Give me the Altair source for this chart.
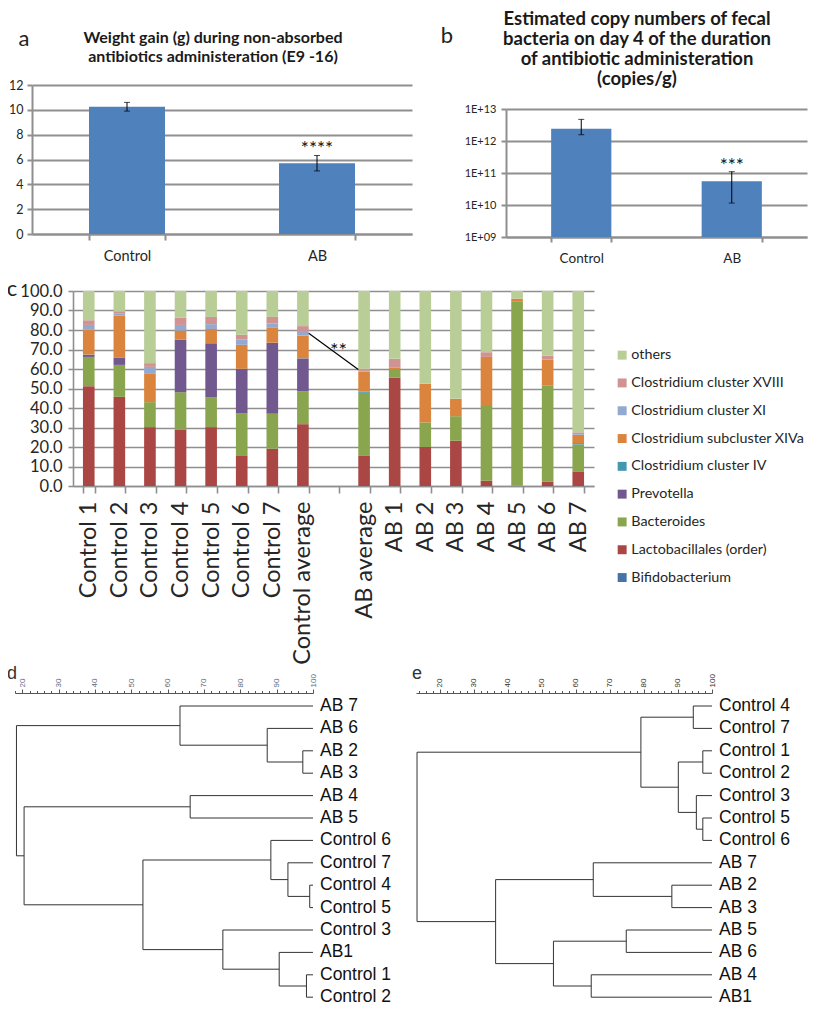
import altair as alt
import pandas as pd

GRID = "#8f8f8f"
TXT = "#262626"
FONT = "Lato"
ARIAL = "Liberation Sans"
LINE = "#333333"

# ---------------- panel a data ----------------
a_title = ["Weight gain (g) during non-absorbed", "antibiotics administeration (E9 -16)"]
a_groups = ["Control", "AB"]
a_means = [10.25, 5.7]
a_errors = [0.35, 0.62]
a_stars = ["", "****"]
a_ticks = [0, 2, 4, 6, 8, 10, 12]

# ---------------- panel b data ----------------
b_title = ["Estimated copy numbers of fecal", "bacteria on day 4 of the duration",
           "of antibiotic administeration", "(copies/g)"]
b_groups = ["Control", "AB"]
b_means = [2.42e12, 5.5e10]
b_err_low = [1.57e12, 1.15e10]
b_err_high = [4.74e12, 1.1e11]
b_stars = ["", "***"]
b_ticks = [1e9, 1e10, 1e11, 1e12, 1e13]

# ---------------- panel c data ----------------
c_samples = ["Control 1", "Control 2", "Control 3", "Control 4", "Control 5",
             "Control 6", "Control 7", "Control average",
             "AB average", "AB 1", "AB 2", "AB 3", "AB 4", "AB 5", "AB 6", "AB 7"]
c_gap = " "
c_taxa = ["Bifidobacterium", "Lactobacillales (order)", "Bacteroides", "Prevotella",
          "Clostridium cluster IV", "Clostridium subcluster XIVa",
          "Clostridium cluster XI", "Clostridium cluster XVIII", "others"]
c_colors = ["#4572A7", "#AA4643", "#89A54E", "#71588F", "#4198AF", "#DB843D",
            "#93A9CF", "#D19392", "#B9CD96"]
bifidobacterium = [0.0, 0.0, 0.0, 0.0, 0.0, 0.0, 0.0, 0.0, 0.0, 0.0, 0.0, 0.0, 0.0, 0.0, 0.0, 0.0]
lactobacillales = [51.2, 45.7, 30.2, 29.0, 30.2, 15.4, 19.1, 31.7, 15.7, 55.5, 20.0, 23.2, 2.7, 0.2, 2.2, 7.5]
bacteroides = [15.0, 16.4, 12.8, 19.1, 15.4, 22.0, 17.9, 16.9, 32.1, 4.2, 12.6, 12.6, 38.3, 94.5, 49.2, 13.8]
prevotella = [1.0, 3.8, 0.0, 27.0, 27.6, 22.7, 36.5, 16.8, 0.0, 0.0, 0.0, 0.0, 0.0, 0.0, 0.0, 0.0]
clos_iv = [0.2, 0.0, 0.0, 0.0, 0.0, 0.0, 0.0, 0.1, 0.7, 0.0, 0.0, 0.0, 0.0, 0.0, 0.0, 0.7]
clos_xiva = [12.7, 21.5, 14.5, 4.6, 7.3, 12.3, 7.6, 11.6, 10.2, 0.9, 19.8, 8.9, 25.2, 1.4, 13.4, 4.3]
clos_xi = [2.5, 1.2, 3.6, 2.9, 2.5, 2.7, 2.3, 2.4, 0.3, 0.0, 0.0, 0.0, 0.0, 0.0, 0.0, 1.0]
clos_xviii = [2.4, 1.0, 1.9, 3.7, 3.7, 2.5, 3.3, 2.5, 1.1, 4.6, 0.0, 0.0, 2.4, 0.0, 2.1, 0.3]
others = [15.0, 10.4, 37.0, 13.7, 13.3, 22.4, 13.3, 18.0, 39.9, 34.8, 47.6, 55.3, 31.4, 3.9, 33.1, 72.4]
c_series = [bifidobacterium, lactobacillales, bacteroides, prevotella, clos_iv,
            clos_xiva, clos_xi, clos_xviii, others]
c_ticks = [0, 10, 20, 30, 40, 50, 60, 70, 80, 90, 100]
# significance link between the two averages
c_link = {"from": "Control average", "to": "AB average", "y_from": 78.3, "y_to": 59.8}
c_link_stars = "**"
c_link_star_y = 66

# ---------------- dendrograms (similarity %) ----------------
d_leaves = ["AB 7", "AB 6", "AB 2", "AB 3", "AB 4", "AB 5", "Control 6", "Control 7",
            "Control 4", "Control 5", "Control 3", "AB1", "Control 1", "Control 2"]
d_merges = [(2, 3, 97.2), (1, 14, 87.4), (0, 15, 63.4), (4, 5, 66.2), (8, 9, 99.1),
            (7, 18, 93.1), (6, 19, 88.4), (12, 13, 98.2), (11, 21, 90.7), (10, 22, 75.2),
            (20, 23, 53.2), (17, 24, 20.5), (16, 25, 18.4)]
e_leaves = ["Control 4", "Control 7", "Control 1", "Control 2", "Control 3", "Control 5",
            "Control 6", "AB 7", "AB 2", "AB 3", "AB 5", "AB 6", "AB 4", "AB1"]
e_merges = [(0, 1, 94.5), (2, 3, 97.3), (5, 6, 97.3), (4, 16, 95.4), (15, 17, 90.1),
            (14, 18, 79.1), (8, 9, 88.2), (7, 20, 65.1), (10, 11, 74.8), (12, 13, 64.5),
            (22, 23, 53.4), (21, 24, 36.4), (19, 25, 13.3)]

one = pd.DataFrame({"k": [0]})


def label_text(txt, x, y, size=22, font=FONT, color="#222222", weight="normal",
               align="center", baseline="middle"):
    return alt.Chart(one).mark_text(text=txt, fontSize=size, font=font, color=color,
                                    fontWeight=weight, align=align,
                                    baseline=baseline).encode(x=alt.value(x), y=alt.value(y))


def title_lines(lines, x, y0, lh, size):
    return [label_text(t, x, y0 + i * lh, size=size, weight="bold", color="#1a1a1a")
            for i, t in enumerate(lines)]


def spacer(w, h):
    return alt.Chart(one).mark_rect(opacity=0).encode(
        x=alt.value(0), x2=alt.value(w), y=alt.value(0), y2=alt.value(h)
    ).properties(width=w, height=h)


# ================= panel a =================
a_df = pd.DataFrame({"group": a_groups, "mean": a_means, "err": a_errors, "star": a_stars})
a_df["lo"] = a_df["mean"] - a_df["err"]
a_df["hi"] = a_df["mean"] + a_df["err"]
a_xs = alt.Scale(domain=a_groups, paddingInner=0.6, paddingOuter=0.3)
a_ys = alt.Scale(domain=[0, 12], nice=False)
a_xaxis = alt.Axis(title=None, labelAngle=0, tickBand="extent", tickSize=6, tickWidth=2,
                   tickColor=GRID, domainColor=GRID, domainWidth=2, labelFont=FONT,
                   labelFontSize=14.5, labelColor=TXT, labelPadding=9)
a_yaxis = alt.Axis(title=None, values=a_ticks, grid=True, gridColor=GRID, gridWidth=2,
                   domainColor=GRID, domainWidth=2, tickColor=GRID, tickWidth=2, tickSize=5,
                   labelFont=FONT, labelFontSize=12.5, labelColor=TXT, labelPadding=4)
ax = alt.X("group:N", scale=a_xs, axis=a_xaxis)
a_bars = alt.Chart(a_df).mark_bar(color="#4F81BD").encode(
    x=ax, y=alt.Y("mean:Q", scale=a_ys, axis=a_yaxis))
a_err = alt.Chart(a_df).mark_rule(color="black", strokeWidth=1).encode(
    x=ax, y=alt.Y("lo:Q", scale=a_ys, axis=a_yaxis), y2="hi:Q")
a_cap1 = alt.Chart(a_df).mark_tick(color="black", size=6, thickness=1).encode(
    x=ax, y=alt.Y("lo:Q", scale=a_ys, axis=a_yaxis))
a_cap2 = alt.Chart(a_df).mark_tick(color="black", size=6, thickness=1).encode(
    x=ax, y=alt.Y("hi:Q", scale=a_ys, axis=a_yaxis))
a_txt = alt.Chart(a_df).mark_text(font=FONT, fontSize=19, color="#111111",
                                  baseline="alphabetic", dy=-1).encode(
    x=ax, y=alt.Y("hi:Q", scale=a_ys, axis=a_yaxis), text="star:N")
panel_a = alt.layer(
    a_bars, a_err, a_cap1, a_cap2, a_txt,
    label_text("a", -8, -46),
    *title_lines(a_title, 181, -47, 19, 16),
).properties(width=380, height=149)

# ================= panel b =================
b_df = pd.DataFrame({"group": b_groups, "mean": b_means, "lo": b_err_low,
                     "hi": b_err_high, "star": b_stars})
b_xs = alt.Scale(domain=b_groups, paddingInner=0.6, paddingOuter=0.3)
b_ys = alt.Scale(type="log", domain=[1e9, 1e13], range=[152, 24], nice=False)
b_xaxis = alt.Axis(title=None, labelAngle=0, tickBand="extent", tickSize=5, tickWidth=2,
                   tickColor=GRID, domainColor=GRID, domainWidth=2, labelFont=FONT,
                   labelFontSize=13.5, labelColor=TXT, labelPadding=9)
b_yaxis = alt.Axis(title=None, values=b_ticks, grid=True, gridColor=GRID, gridWidth=2,
                   domainColor=GRID, domainWidth=2, tickColor=GRID, tickWidth=2, tickSize=5,
                   labelExpr="'1E+' + format(round(log(datum.value) / LN10), '02d')",
                   labelFont=FONT, labelFontSize=11, labelColor=TXT, labelPadding=5)
bx = alt.X("group:N", scale=b_xs, axis=b_xaxis)
b_bars = alt.Chart(b_df).mark_bar(color="#4F81BD").encode(
    x=bx, y=alt.Y("mean:Q", scale=b_ys, axis=b_yaxis), y2=alt.datum(1e9))
b_err = alt.Chart(b_df).mark_rule(color="black", strokeWidth=1).encode(
    x=bx, y=alt.Y("lo:Q", scale=b_ys, axis=b_yaxis), y2="hi:Q")
b_cap1 = alt.Chart(b_df).mark_tick(color="black", size=6, thickness=1).encode(
    x=bx, y=alt.Y("lo:Q", scale=b_ys, axis=b_yaxis))
b_cap2 = alt.Chart(b_df).mark_tick(color="black", size=6, thickness=1).encode(
    x=bx, y=alt.Y("hi:Q", scale=b_ys, axis=b_yaxis))
b_txt = alt.Chart(b_df).mark_text(font=FONT, fontSize=19, color="#111111",
                                  baseline="alphabetic", dy=0).encode(
    x=bx, y=alt.Y("hi:Q", scale=b_ys, axis=b_yaxis), text="star:N")
panel_b = alt.layer(
    b_bars, b_err, b_cap1, b_cap2, b_txt,
    label_text("b", -59, -49),
    *title_lines(b_title, 131, -66, 20.0, 18.5),
).properties(width=301, height=152)

# ================= panel c =================
rows = []
for ti, (taxon, series) in enumerate(zip(c_taxa, c_series)):
    for si, s in enumerate(c_samples):
        rows.append({"sample": s, "taxon": taxon, "value": series[si], "rank": ti})
c_df = pd.DataFrame(rows)
c_domain = c_samples[:8] + [c_gap] + c_samples[8:]
c_xs = alt.Scale(domain=c_domain, paddingInner=0.62, paddingOuter=0.325)
c_ys = alt.Scale(domain=[0, 100], nice=False)
c_xaxis = alt.Axis(title=None, labelAngle=-90, tickBand="extent", tickSize=7, tickWidth=1.6,
                   tickColor=GRID, domainColor=GRID, domainWidth=1.6, labelFont=FONT,
                   labelFontSize=23.5, labelColor=TXT, labelPadding=8, labelLimit=400)
c_yaxis = alt.Axis(title=None, values=c_ticks, format=".1f", grid=True, gridColor=GRID,
                   gridWidth=1.6, domainColor=GRID, domainWidth=1.6, tickColor=GRID,
                   tickWidth=1.6, tickSize=5, labelFont=FONT, labelFontSize=16.5,
                   labelColor=TXT, labelPadding=6)
legend_order = c_taxa[::-1]
legend_colors = c_colors[::-1]
c_bars = alt.Chart(c_df).mark_bar().encode(
    x=alt.X("sample:N", scale=c_xs, axis=c_xaxis),
    y=alt.Y("value:Q", stack="zero", scale=c_ys, axis=c_yaxis),
    color=alt.Color("taxon:N", scale=alt.Scale(domain=legend_order, range=legend_colors),
                    legend=alt.Legend(orient="none", legendX=600, legendY=263, title=None,
                                      symbolType="square", symbolSize=80,
                                      symbolStrokeWidth=0, labelFont=FONT,
                                      labelFontSize=14.3, labelColor=TXT, rowPadding=12.8,
                                      labelOffset=2, padding=0, labelLimit=300)),
    order=alt.Order("rank:Q", sort="ascending"))
link_df = pd.DataFrame({"a": [c_link["from"]], "b": [c_link["to"]],
                        "ya": [c_link["y_from"]], "yb": [c_link["y_to"]]})
c_line = alt.Chart(link_df).mark_rule(color="black", strokeWidth=1.2, xOffset=5.8,
                                      x2Offset=-5.8).encode(
    x=alt.X("a:N", scale=c_xs, axis=c_xaxis), x2="b:N",
    y=alt.Y("ya:Q", scale=c_ys, axis=c_yaxis), y2="yb:Q")
star_df = pd.DataFrame({"s": [c_gap], "y": [c_link_star_y], "t": [c_link_stars]})
c_star = alt.Chart(star_df).mark_text(font=FONT, fontSize=20, color="#111111",
                                      baseline="alphabetic", dx=5).encode(
    x=alt.X("s:N", scale=c_xs, axis=c_xaxis),
    y=alt.Y("y:Q", scale=c_ys, axis=c_yaxis), text="t:N")
panel_c = alt.layer(c_bars, c_line, c_star, label_text("c", -61, -2)).properties(
    width=521, height=195)


# ================= dendrograms =================
S = 22.4


def dendro(leaves, merges, xmin, width, lab, labcolor):
    n = len(leaves)
    ypos = {i: float(i) for i in range(n)}
    xpos = {i: 100.0 for i in range(n)}
    segs = []
    for k, (p, q, h) in enumerate(merges):
        segs.append({"x": h, "y": ypos[p], "x2": h, "y2": ypos[q]})
        segs.append({"x": xpos[p], "y": ypos[p], "x2": h, "y2": ypos[p]})
        segs.append({"x": xpos[q], "y": ypos[q], "x2": h, "y2": ypos[q]})
        ypos[n + k] = (ypos[p] + ypos[q]) / 2
        xpos[n + k] = h
    seg_df = pd.DataFrame(segs)
    leaf_df = pd.DataFrame({"name": leaves, "idx": list(range(n)), "sim": [100.0] * n})
    xs = alt.Scale(domain=[xmin, 100], nice=False, zero=False)
    ys = alt.Scale(domain=[0, n - 1], range=[13, 13 + (n - 1) * S], nice=False, zero=False)
    first = int(xmin) + (int(xmin) % 2)
    xaxis = alt.Axis(orient="top", title=None, values=list(range(first, 101, 2)), format="d",
                     labelExpr="datum.value % 10 === 0 ? datum.label : ''",
                     labelAngle=-90, labelAlign="left", labelBaseline="middle",
                     labelFontSize=8, labelFont=ARIAL, labelColor=labcolor,
                     labelPadding=2, labelFlush=False, labelOverlap=False,
                     tickSize={"condition": {"test": "datum.value % 10 === 0", "value": 4},
                               "value": 2.5},
                     tickColor="#555555", tickWidth=1, domainColor="#555555", domainWidth=1,
                     grid=False)
    lines = alt.Chart(seg_df).mark_rule(color=LINE, strokeWidth=1).encode(
        x=alt.X("x:Q", scale=xs, axis=xaxis), x2="x2:Q",
        y=alt.Y("y:Q", scale=ys, axis=None), y2="y2:Q")
    labels = alt.Chart(leaf_df).mark_text(align="left", baseline="middle", dx=7,
                                          font=ARIAL, fontSize=17.5, color="#111111").encode(
        x=alt.X("sim:Q", scale=xs, axis=xaxis),
        y=alt.Y("idx:Q", scale=ys, axis=None), text="name:N")
    return alt.layer(lines, labels, lab).properties(width=width, height=13 + (n - 1) * S + 4)


panel_d = dendro(d_leaves, d_merges, 18, 298,
                 label_text("d", -3, -19, size=18, font=ARIAL, color="#333333"), "#5a6b82")
panel_e = dendro(e_leaves, e_merges, 13, 296,
                 label_text("e", 1, -19, size=18, font=ARIAL, color="#333333"), "#333333")

# ================= layout =================
# the grid origin (top-left of panel a's row, at the left edge of panel d) is pinned with
# padding so that panels land where they sit in the figure; the canvas is 800 x 1003.
PAD_L, PAD_T, CANVAS_W, CANVAS_H = 7, 77, 800, 1003
row1 = alt.hconcat(spacer(17, 1), panel_a, spacer(94, 1), panel_b, spacing=0, bounds="flush")
row2 = alt.hconcat(spacer(58, 1), panel_c, spacing=0, bounds="flush")
row3 = alt.hconcat(panel_d, spacer(103, 1), panel_e, spacing=0, bounds="flush")
chart = alt.vconcat(row1, spacer(1, 13), row2, row3, spacing=0).properties(
    autosize=alt.AutoSizeParams(type="none"),
    padding={"left": PAD_L, "top": PAD_T, "right": CANVAS_W - PAD_L,
             "bottom": CANVAS_H - PAD_T},
).configure_view(strokeWidth=0)

chart.save("out.html", embed_options={"renderer": "svg", "actions": False})
